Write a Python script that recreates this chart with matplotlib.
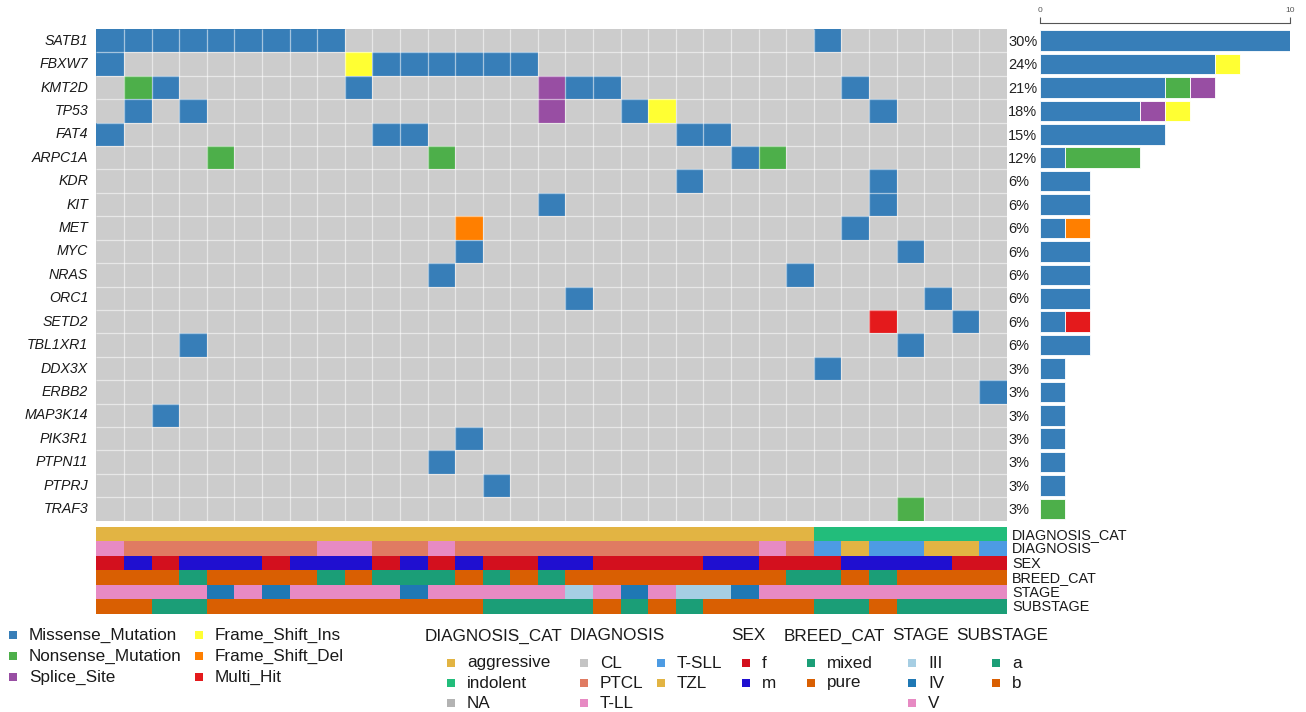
import matplotlib.pyplot as plt
from matplotlib.patches import Rectangle

plt.rcParams['font.family'] = ['Liberation Sans', 'DejaVu Sans']

# ---- mutation matrix: one string per gene, one char per sample ----
# . none, M missense, N nonsense, S splice site, I frameshift ins,
# D frameshift del, H multi hit
genes = ["SATB1", "FBXW7", "KMT2D", "TP53", "FAT4", "ARPC1A", "KDR", "KIT",
         "MET", "MYC", "NRAS", "ORC1", "SETD2", "TBL1XR1", "DDX3X", "ERBB2",
         "MAP3K14", "PIK3R1", "PTPN11", "PTPRJ", "TRAF3"]
calls = [
    "MMMMMMMMM.................M......",
    "M........IMMMMMM.................",
    ".NM......M......SMM........M.....",
    ".M.M............S..MI.......M....",
    "M.........MM.........MM..........",
    "....N.......N..........MN........",
    ".....................M......M....",
    "................M...........M....",
    ".............D.............M.....",
    ".............M...............M...",
    "............M............M.......",
    ".................M............M..",
    "............................H..M.",
    "...M.........................M...",
    "..........................M......",
    "................................M",
    "..M..............................",
    ".............M...................",
    "............M....................",
    "..............M..................",
    ".............................N...",
]

mut_codes = ["M", "N", "S", "I", "D", "H"]
mut_names = ["Missense_Mutation", "Nonsense_Mutation", "Splice_Site",
             "Frame_Shift_Ins", "Frame_Shift_Del", "Multi_Hit"]
mut_colors = ["#377EB8", "#4DAF4A", "#984EA3", "#FFFF33", "#FF7F00", "#E41A1C"]

# ---- sample annotations ----
diagnosis_cat = ["aggressive"] * 26 + ["indolent"] * 7
diagnosis = ("T-LL PTCL PTCL PTCL PTCL PTCL PTCL PTCL T-LL T-LL PTCL PTCL T-LL "
             "PTCL PTCL PTCL PTCL PTCL PTCL PTCL PTCL PTCL PTCL PTCL T-LL PTCL "
             "T-SLL TZL T-SLL T-SLL TZL TZL T-SLL").split()
sex = "f m f m m m f m m m f m f m f f m m f f f f m m f f f m m m m f f".split()
breed_cat = ("pure pure pure mixed pure pure pure pure mixed pure mixed mixed "
             "mixed pure mixed pure mixed pure pure pure pure pure pure pure "
             "pure mixed mixed pure mixed pure pure pure pure").split()
stage = "V V V V IV V IV V V V V IV V V V V V III V IV V III III IV V V V V V V V V V".split()
substage = "b b a a b b b b b b b b b b a a a a b a b a b b b b a a b a a a a".split()

annot_names = ["DIAGNOSIS_CAT", "DIAGNOSIS", "SEX", "BREED_CAT", "STAGE", "SUBSTAGE"]
annot_rows = [diagnosis_cat, diagnosis, sex, breed_cat, stage, substage]
annot_levels = [
    ["aggressive", "indolent", "NA"],
    ["CL", "PTCL", "T-LL", "T-SLL", "TZL"],
    ["f", "m"],
    ["mixed", "pure"],
    ["III", "IV", "V"],
    ["a", "b"],
]
annot_colors = [
    ["#E2B443", "#22BD7B", "#B3B3B3"],
    ["#C4C4C4", "#E07B62", "#E78AC3", "#4D9BE3", "#E2B443"],
    ["#D3101E", "#1F0FD0"],
    ["#1B9E77", "#D95F02"],
    ["#A6CEE3", "#1F78B4", "#E78AC3"],
    ["#1B9E77", "#D95F02"],
]

n_samples = len(calls[0])
n_genes = len(genes)

W, H = 1306, 712
fig = plt.figure(figsize=(W / 100, H / 100), dpi=100)


def px_axes(x0, y0, x1, y1):
    return fig.add_axes([x0 / W, 1 - y1 / H, (x1 - x0) / W, (y1 - y0) / H])


# ---- legend layer (pixel coords) ----
lg = px_axes(0, 0, W, H)
lg.set_xlim(0, W)
lg.set_ylim(H, 0)
lg.axis("off")

# ---- oncoplot ----
ax = px_axes(96.4, 29, 1007, 520.7)
ax.set_xlim(0, n_samples)
ax.set_ylim(n_genes, 0)
ax.axis("off")
ax.add_patch(Rectangle((0, 0), n_samples, n_genes, color="#CCCCCC", lw=0))
for r, row in enumerate(calls):
    for c, code in enumerate(row):
        if code != ".":
            ax.add_patch(Rectangle((c, r), 1, 1, lw=0,
                                   color=mut_colors[mut_codes.index(code)]))
ax.hlines(range(1, n_genes), 0, n_samples, color="white", lw=0.9, alpha=0.55)
ax.vlines(range(1, n_samples), 0, n_genes, color="white", lw=0.9, alpha=0.55)

for r, gene in enumerate(genes):
    ax.text(-0.3, r + 0.5, gene, ha="right", va="center", style="italic",
            fontsize=10.2, color="#1a1a1a")
    n = sum(1 for ch in calls[r] if ch != ".")
    pct = round(100 * n / n_samples)
    ax.text(n_samples + 0.04, r + 0.55, f"{pct}%", ha="left", va="center",
            fontsize=10.5, color="#222222", clip_on=False)

# ---- right barplot ----
bx = px_axes(1039.5, 29, 1290, 520.7)
bx.set_xlim(0, 10)
bx.set_ylim(n_genes, 0)
for r in range(n_genes):
    left = 0
    for code, col in zip(mut_codes, mut_colors):
        k = calls[r].count(code)
        if k:
            bx.barh(r + 0.5, k, left=left, height=0.88, color=col,
                    edgecolor="white", linewidth=0.6)
            left += k
for s in ["left", "right", "bottom"]:
    bx.spines[s].set_visible(False)
bx.spines["top"].set_position(("outward", 4))
bx.spines["top"].set_color("#555555")
bx.spines["top"].set_linewidth(0.8)
bx.xaxis.tick_top()
bx.set_xticks([0, 10])
bx.tick_params(axis="x", direction="out", length=4, width=0.8, color="#555555",
               labelsize=6, labelcolor="#555555", pad=3)
bx.set_yticks([])

# ---- annotation tracks ----
an = px_axes(96.4, 526.7, 1007, 614)
an.set_xlim(0, n_samples)
an.set_ylim(len(annot_rows), 0)
an.axis("off")
for r, (vals, levels, cols) in enumerate(zip(annot_rows, annot_levels, annot_colors)):
    for c, v in enumerate(vals):
        an.add_patch(Rectangle((c, r), 1, 1, lw=0, color=cols[levels.index(v)]))
    an.text(n_samples + 0.18, r + 0.55, annot_names[r], ha="left", va="center",
            fontsize=10.4, color="#1a1a1a", clip_on=False)

# ---- mutation legend ----
leg_fs = 12.3
for i, (name, col) in enumerate(zip(mut_names, mut_colors)):
    x_txt = 29 if i < 3 else 215
    y = 635 + 21 * (i % 3)
    lg.scatter(x_txt - 16, y, marker="s", s=26, color=col, lw=0)
    lg.text(x_txt, y, name, ha="left", va="center", fontsize=leg_fs, color="#1a1a1a")

# ---- annotation legend ----
title_x = [425, 570, 731, 784, 892, 956]
item_cols = [
    [(467, 0, 3)],
    [(600, 0, 3), (677, 3, 5)],
    [(762, 0, 2)],
    [(827, 0, 2)],
    [(928, 0, 3)],
    [(1012, 0, 2)],
]
for t, name in enumerate(annot_names):
    lg.text(title_x[t], 636, name, ha="left", va="center", fontsize=leg_fs,
            color="#1a1a1a")
    for x_txt, i0, i1 in item_cols[t]:
        for j, i in enumerate(range(i0, i1)):
            y = 663 + 20 * j
            lg.scatter(x_txt - 16, y, marker="s", s=26, color=annot_colors[t][i], lw=0)
            lg.text(x_txt, y, annot_levels[t][i], ha="left", va="center",
                    fontsize=leg_fs, color="#1a1a1a")

fig.savefig("out.png", dpi=100)
